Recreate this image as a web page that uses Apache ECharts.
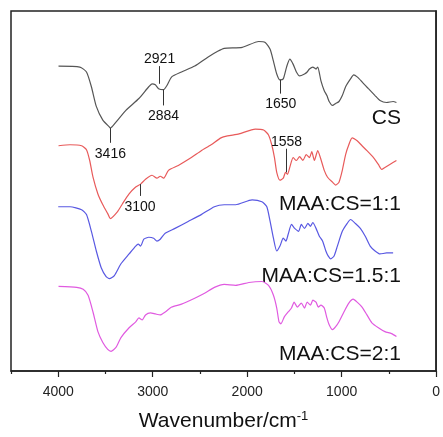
<!DOCTYPE html>
<html>
<head>
<meta charset="utf-8">
<script src="https://cdn.jsdelivr.net/npm/echarts@6/dist/echarts.min.js"></script>
<style>
  html, body { margin: 0; padding: 0; background: #fff; }
  #chart { width: 443px; height: 437px; }
</style>
</head>
<body>
<div id="chart"></div>
<script>
// FTIR spectra, [wavenumber, offset transmittance (a.u.)]
var csSpectrum = [
  [3997, 310], [3771, 309], [3701, 304], [3649, 289], [3597, 269], [3528, 255], [3458, 248], [3448, 247],
  [3389, 253], [3284, 265], [3146, 277], [3042, 289], [3007, 292], [2972, 291], [2938, 287], [2885, 286],
  [2851, 290], [2799, 299], [2695, 304], [2555, 310], [2417, 319], [2312, 325], [2243, 328], [2052, 329],
  [1878, 335], [1809, 334], [1757, 327], [1722, 315], [1687, 302], [1653, 296], [1618, 297], [1583, 309],
  [1549, 317], [1514, 312], [1479, 304], [1445, 300], [1393, 302], [1365, 304], [1341, 307], [1305, 309],
  [1271, 307], [1253, 309], [1219, 295], [1184, 285], [1156, 280], [1132, 274], [1097, 270], [1063, 272],
  [1028, 274], [993, 280], [958, 289], [906, 297], [872, 301], [836, 299], [784, 294], [716, 287],
  [646, 280], [594, 275], [524, 273], [455, 274], [420, 273]
];
var ratio11Spectrum = [
  [3997, 229], [3875, 230], [3753, 229], [3701, 225], [3667, 214], [3632, 197], [3580, 180], [3528, 169],
  [3476, 160], [3448, 155], [3372, 162], [3320, 170], [3250, 180], [3180, 187], [3128, 190], [3076, 195],
  [3007, 199], [2955, 196], [2920, 198], [2885, 196], [2833, 204], [2729, 209], [2591, 217], [2486, 224],
  [2382, 230], [2278, 237], [2208, 239], [2086, 241], [1914, 246], [1826, 245], [1774, 240], [1740, 230],
  [1711, 217], [1687, 202], [1653, 194], [1618, 196], [1594, 202], [1573, 200], [1549, 207], [1514, 217],
  [1479, 214], [1445, 218], [1410, 214], [1375, 220], [1341, 217], [1316, 223], [1289, 214], [1253, 224],
  [1219, 215], [1184, 204], [1149, 197], [1097, 192], [1063, 189], [1028, 192], [993, 204], [958, 220],
  [924, 230], [889, 237], [836, 234], [784, 229], [732, 224], [663, 217], [611, 210], [576, 205],
  [542, 207], [490, 210], [420, 214]
];
var ratio151Spectrum = [
  [4000, 167], [3875, 167], [3753, 164], [3701, 159], [3649, 142], [3597, 122], [3545, 105], [3493, 96],
  [3458, 94], [3406, 97], [3336, 109], [3250, 119], [3180, 127], [3153, 129], [3128, 127], [3094, 134],
  [3042, 136], [2990, 135], [2955, 132], [2920, 134], [2868, 140], [2764, 145], [2625, 152], [2486, 159],
  [2347, 167], [2243, 169], [2122, 169], [1948, 174], [1844, 172], [1792, 167], [1757, 152], [1722, 135],
  [1687, 122], [1653, 127], [1618, 135], [1590, 132], [1566, 139], [1531, 149], [1497, 145], [1455, 142],
  [1427, 149], [1393, 145], [1357, 150], [1330, 147], [1305, 151], [1271, 145], [1236, 137], [1201, 132],
  [1167, 122], [1143, 117], [1115, 114], [1080, 117], [1045, 127], [993, 142], [941, 150], [906, 154],
  [854, 150], [802, 145], [750, 137], [698, 127], [646, 122], [594, 119], [524, 120], [455, 120]
];
var ratio21Spectrum = [
  [3997, 86], [3805, 85], [3736, 83], [3684, 77], [3632, 60], [3580, 40], [3528, 29], [3476, 22],
  [3441, 20], [3389, 24], [3336, 34], [3250, 44], [3180, 50], [3146, 54], [3111, 52], [3076, 57],
  [3024, 59], [2972, 58], [2920, 57], [2868, 60], [2799, 65], [2695, 68], [2555, 74], [2451, 79],
  [2347, 85], [2243, 88], [2122, 87], [1982, 90], [1844, 91], [1774, 87], [1722, 77], [1687, 64],
  [1663, 50], [1643, 48], [1607, 55], [1566, 60], [1531, 64], [1503, 70], [1469, 65], [1427, 69],
  [1393, 64], [1365, 70], [1330, 67], [1305, 72], [1271, 70], [1247, 65], [1219, 67], [1184, 64],
  [1156, 54], [1132, 47], [1097, 42], [1063, 45], [1028, 50], [976, 60], [924, 69], [878, 73],
  [836, 70], [784, 65], [732, 57], [680, 49], [611, 44], [542, 40], [472, 38], [420, 35]
];
var seriesNames = ['CS', 'MAA:CS=1:1', 'MAA:CS=1.5:1', 'MAA:CS=2:1'];
var seriesColors = ['#555555', '#e85a5a', '#5858e2', '#e05ae0'];
// peak markers: [text, wavenumber, y at curve, y at label end]
var csPeaks = [['3416', 3448, 247, 232], ['2921', 2927, 292, 310], ['2884', 2885, 286, 270], ['1650', 1645, 296, 282]];
var ratio11Peaks = [['3100', 3135, 190, 178], ['1558', 1583, 202, 226]];
var majorTicks = [0, 1000, 2000, 3000, 4000];
var minorTicks = [500, 1500, 2500, 3500, 4500];

var chart = echarts.init(document.getElementById('chart'), null, { renderer: 'canvas' });
var font = 'Liberation Sans, Arial, sans-serif';

function peakLines(peaks) {
  return {
    silent: true,
    symbol: 'none',
    animation: false,
    lineStyle: { color: '#333', width: 1, type: 'solid' },
    label: {
      show: true, position: 'end', distance: 1,
      color: '#111', fontSize: 14, fontFamily: font,
      formatter: function (p) { return p.name; }
    },
    data: peaks.map(function (p) {
      var down = p[3] < p[2];
      return [
        { name: p[0], coord: [p[1], p[2]], label: { distance: down ? 4 : 0 } },
        { coord: [p[1], p[3]] }
      ];
    })
  };
}

var spectra = [csSpectrum, ratio11Spectrum, ratio151Spectrum, ratio21Spectrum];
var series = spectra.map(function (d, i) {
  var s = {
    name: seriesNames[i],
    type: 'line',
    data: d,
    showSymbol: false,
    smooth: 0.2,
    lineStyle: { color: seriesColors[i], width: 1.2 },
    animation: false
  };
  if (i === 0) s.markLine = peakLines(csPeaks);
  if (i === 1) s.markLine = peakLines(ratio11Peaks);
  return s;
});

var labelTops = [119, 205, 277, 355];

chart.setOption({
  backgroundColor: '#fff',
  animation: false,
  grid: { left: 11, right: 2, top: 11, bottom: 60, show: true, borderColor: '#222', borderWidth: 1.5 },
  xAxis: [{
    type: 'value', min: 0, max: 4500, interval: 1000, inverse: true,
    axisLine: { show: true, lineStyle: { color: '#222', width: 1.5 } },
    axisTick: { show: true, length: 6, inside: false, customValues: majorTicks, lineStyle: { color: '#222', width: 1.2 } },
    axisLabel: {
      customValues: majorTicks, color: '#222', fontSize: 14, margin: 14, fontFamily: font,
      formatter: function (v) { return String(v); }
    },
    splitLine: { show: false },
    name: '{a|Wavenumber/cm}{s|-1}',
    nameLocation: 'middle',
    nameGap: 39,
    nameTextStyle: {
      rich: {
        a: { fontSize: 21, color: '#111', fontFamily: font },
        s: { fontSize: 13, color: '#111', fontFamily: font, verticalAlign: 'top', padding: [0, 0, 10, 0] }
      }
    }
  }, {
    type: 'value', min: 0, max: 4500, interval: 500, inverse: true, position: 'bottom',
    axisLine: { show: false },
    axisTick: { show: true, length: 3, customValues: minorTicks, lineStyle: { color: '#222', width: 1.2 } },
    axisLabel: { show: false },
    splitLine: { show: false }
  }],
  yAxis: {
    type: 'value', min: 0, max: 366,
    axisLine: { show: true, lineStyle: { color: '#222', width: 1.5 } },
    axisTick: { show: false }, axisLabel: { show: false }, splitLine: { show: false }
  },
  graphic: seriesNames.map(function (n, i) {
    return {
      type: 'text', right: 42, top: labelTops[i] - 11,
      style: { text: n, fill: '#111', font: '21px ' + font }
    };
  }),
  series: series
});
</script>
</body>
</html>
